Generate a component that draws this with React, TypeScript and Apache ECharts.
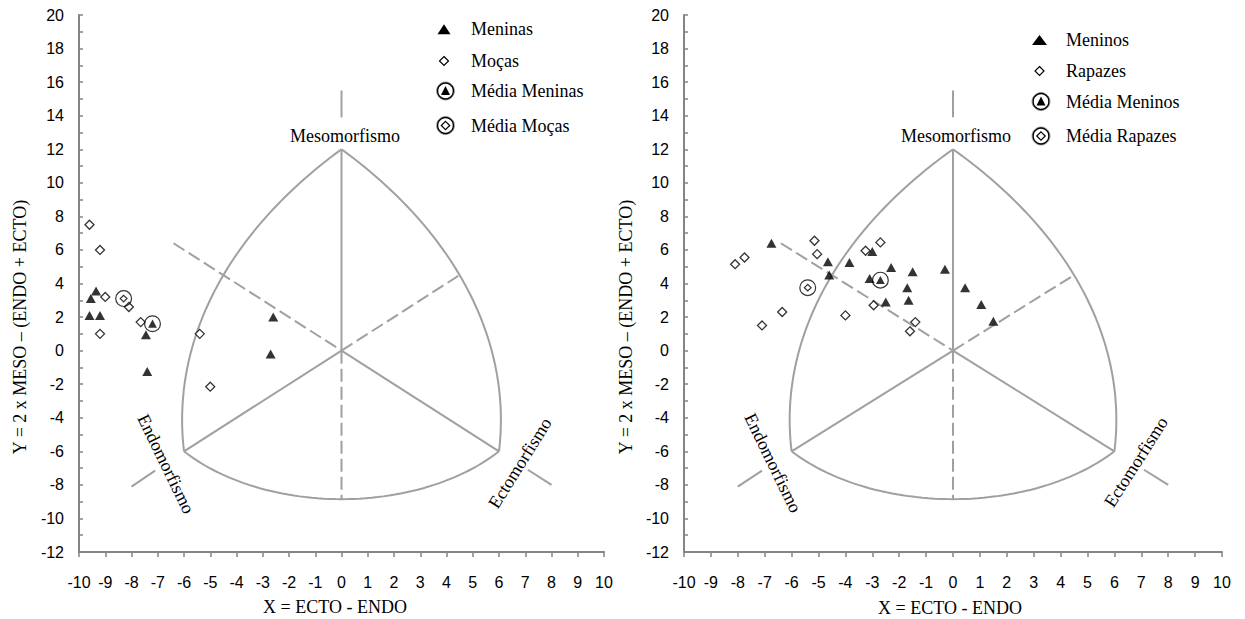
import { useEffect, useRef } from 'react';
import * as echarts from 'echarts';

type Pt = [number, number];

// Somatotype coordinates: X = ECTO - ENDO, Y = 2 x MESO - (ENDO + ECTO)
const meninas: Pt[] = [
  [-9.35, 3.55], [-9.55, 3.1], [-9.6, 2.1], [-9.2, 2.1],
  [-7.45, 0.95], [-7.4, -1.25], [-2.6, 2.0], [-2.7, -0.2],
];
const mocas: Pt[] = [
  [-9.6, 7.5], [-9.2, 6.0], [-9.0, 3.2], [-8.1, 2.6],
  [-7.65, 1.7], [-9.2, 1.0], [-5.4, 1.0], [-5.0, -2.15],
];
const mediaMeninas: Pt[] = [[-7.2, 1.6]];
const mediaMocas: Pt[] = [[-8.3, 3.1]];

const meninos: Pt[] = [
  [-6.75, 6.4], [-4.65, 5.3], [-4.6, 4.5], [-3.85, 5.25], [-3.0, 5.9],
  [-2.3, 4.95], [-1.5, 4.7], [-0.3, 4.85], [-3.1, 4.3], [-1.7, 3.75],
  [-1.65, 3.0], [-2.5, 2.9], [0.45, 3.75], [1.05, 2.75], [1.5, 1.75],
];
const rapazes: Pt[] = [
  [-8.1, 5.15], [-7.75, 5.55], [-5.15, 6.55], [-5.05, 5.75], [-6.35, 2.3],
  [-7.1, 1.5], [-4.0, 2.1], [-2.7, 6.45], [-3.25, 5.95], [-2.95, 2.7],
  [-1.4, 1.7], [-1.6, 1.15],
];
const mediaMeninos: Pt[] = [[-2.7, 4.2]];
const mediaRapazes: Pt[] = [[-5.4, 3.75]];

// Axis ranges
const xRange = { min: -10, max: 10, step: 1 };
const yRange = { min: -12, max: 20, step: 2 };

// Somatochart template (same for both panels)
const apex: Pt = [0, 12];
const endoCorner: Pt = [-6, -6];
const ectoCorner: Pt = [6, -6];
const endoArcMid: Pt = [-4.5, 4.5];
const ectoArcMid: Pt = [4.5, 4.5];
const baseArcMid: Pt = [0, -8.85];
const solidSegments: Pt[][] = [
  [[0, 15.5], [0, 13.9]],
  [[0, 12], [0, 0]],
  [[-6, -6], [0, 0]],
  [[0, 0], [6, -6]],
  [[-8, -8.1], [-7.1, -7.15]],
  [[7.1, -7.1], [8, -8]],
];
const dashedSegments: Pt[][] = [
  [[0, 0], [0, -8.85]],
  [[0, 0], [4.45, 4.45]],
  [[-6.4, 6.4], [0, 0]],
];

// Circular arc from a to c passing through b
function arcThrough(a: Pt, b: Pt, c: Pt, n = 60): Pt[] {
  const [ax, ay] = a, [bx, by] = b, [cx, cy] = c;
  const d = 2 * (ax * (by - cy) + bx * (cy - ay) + cx * (ay - by));
  const ux = ((ax * ax + ay * ay) * (by - cy) + (bx * bx + by * by) * (cy - ay) + (cx * cx + cy * cy) * (ay - by)) / d;
  const uy = ((ax * ax + ay * ay) * (cx - bx) + (bx * bx + by * by) * (ax - cx) + (cx * cx + cy * cy) * (bx - ax)) / d;
  const r = Math.hypot(ax - ux, ay - uy);
  const TWO = Math.PI * 2;
  const norm = (v: number) => ((v % TWO) + TWO) % TWO;
  const t0 = Math.atan2(ay - uy, ax - ux);
  const t1 = Math.atan2(by - uy, bx - ux);
  const t2 = Math.atan2(cy - uy, cx - ux);
  const d02 = norm(t2 - t0);
  const d01 = norm(t1 - t0);
  const sweep = d01 < d02 ? d02 : d02 - TWO;
  const pts: Pt[] = [];
  for (let i = 0; i <= n; i++) {
    const t = t0 + (sweep * i) / n;
    pts.push([ux + r * Math.cos(t), uy + r * Math.sin(t)]);
  }
  return pts;
}

const RING = 'M50,0 A50,50 0 1,1 50,100 A50,50 0 1,1 50,0 Z M50,7 A43,43 0 1,0 50,93 A43,43 0 1,0 50,7 Z';
const MEAN_TRIANGLE = 'path://' + RING + ' M50,25 L76,73 L24,73 Z';
const MEAN_DIAMOND = 'path://' + RING + ' M50,26 L75,50 L50,74 L25,50 Z M50,36 L35,50 L50,64 L65,50 Z';

const SERIF = '"Liberation Serif", "Times New Roman", serif';
const SANS = '"Liberation Sans", Arial, sans-serif';
const AXIS_GREY = '#858585';
const LINE_GREY = '#a0a0a0';

interface Panel {
  names: [string, string, string, string];
  groups: [Pt[], Pt[], Pt[], Pt[]];
}

const panels: Panel[] = [
  { names: ['Meninas', 'Moças', 'Média Meninas', 'Média Moças'], groups: [meninas, mocas, mediaMeninas, mediaMocas] },
  { names: ['Meninos', 'Rapazes', 'Média Meninos', 'Média Rapazes'], groups: [meninos, rapazes, mediaMeninos, mediaRapazes] },
];

function templateSeries(gi: number): any[] {
  const base = {
    type: 'line', xAxisIndex: gi, yAxisIndex: gi, showSymbol: false, symbol: 'none',
    silent: true, smooth: false, z: 1,
  };
  const out: any[] = [];
  const arcs = [
    arcThrough(apex, endoArcMid, endoCorner),
    arcThrough(apex, ectoArcMid, ectoCorner),
    arcThrough(endoCorner, baseArcMid, ectoCorner),
  ];
  arcs.forEach((a) => out.push({ ...base, data: a, lineStyle: { color: LINE_GREY, width: 2 } }));
  solidSegments.forEach((s) => out.push({ ...base, data: s, lineStyle: { color: LINE_GREY, width: 2 } }));
  dashedSegments.forEach((s) => out.push({ ...base, data: s, lineStyle: { color: LINE_GREY, width: 2, type: [13, 5] } }));
  return out;
}

function dataSeries(gi: number, p: Panel): any[] {
  const common = { type: 'scatter', xAxisIndex: gi, yAxisIndex: gi, z: 3 };
  return [
    { ...common, name: p.names[0], data: p.groups[0], symbol: 'triangle', symbolSize: [10, 9], itemStyle: { color: '#000' } },
    { ...common, name: p.names[1], data: p.groups[1], symbol: 'diamond', symbolSize: [9, 9], itemStyle: { color: '#fff', borderColor: '#000', borderWidth: 1.3 } },
    { ...common, name: p.names[2], data: p.groups[2], symbol: MEAN_TRIANGLE, symbolSize: 17, itemStyle: { color: '#000' } },
    { ...common, name: p.names[3], data: p.groups[3], symbol: MEAN_DIAMOND, symbolSize: 17, itemStyle: { color: '#000' } },
  ];
}

function text(t: string, x: number, y: number, deg: number, size = 18, align = 'center'): any {
  return {
    type: 'text', x, y, rotation: (deg * Math.PI) / 180, silent: true, z: 10,
    style: { text: t, fill: '#000', fontSize: size, fontFamily: SERIF, align, verticalAlign: 'middle' },
  };
}

interface LegendLayout { sx: number; tx: number; rows: number[]; triW: number }

function legendGraphic(names: string[], L: LegendLayout): any[] {
  const g: any[] = [];
  const [r0, r1, r2, r3] = L.rows;
  const sx = L.sx;
  g.push({ type: 'polygon', silent: true, z: 10, shape: { points: [[sx, r0 - 5], [sx + L.triW / 2, r0 + 5], [sx - L.triW / 2, r0 + 5]] }, style: { fill: '#000' } });
  g.push({ type: 'polygon', silent: true, z: 10, shape: { points: [[sx, r1 - 4.5], [sx + 4.5, r1], [sx, r1 + 4.5], [sx - 4.5, r1]] }, style: { fill: '#fff', stroke: '#000', lineWidth: 1.2 } });
  [r2, r3].forEach((ry) => {
    g.push({ type: 'circle', silent: true, z: 10, shape: { cx: sx + 1.5, cy: ry, r: 9 }, style: { fill: 'none', stroke: '#9a9a9a', lineWidth: 1 } });
    g.push({ type: 'circle', silent: true, z: 10, shape: { cx: sx + 1.5, cy: ry, r: 7.9 }, style: { fill: 'none', stroke: '#000', lineWidth: 1.4 } });
  });
  g.push({ type: 'polygon', silent: true, z: 11, shape: { points: [[sx + 1.5, r2 - 5], [sx + 6, r2 + 4], [sx - 3, r2 + 4]] }, style: { fill: '#000' } });
  g.push({ type: 'polygon', silent: true, z: 11, shape: { points: [[sx + 1.5, r3 - 4.2], [sx + 5.7, r3], [sx + 1.5, r3 + 4.2], [sx - 2.7, r3]] }, style: { fill: '#fff', stroke: '#000', lineWidth: 1.2 } });
  names.forEach((n, i) => g.push(text(n, L.tx, L.rows[i], 0, 18, 'left')));
  return g;
}

export default function App() {
  const ref = useRef<HTMLDivElement>(null);

  useEffect(() => {
    if (!ref.current) return;
    const chart = echarts.init(ref.current, undefined, { renderer: 'svg' });

    const axisLine = { onZero: false, lineStyle: { color: AXIS_GREY, width: 2 } };
    const xAxis = [0, 1].map((gi) => ({
      type: 'value', gridIndex: gi, min: xRange.min, max: xRange.max, interval: xRange.step,
      axisLine,
      axisTick: { show: true, inside: false, length: 5, lineStyle: { color: AXIS_GREY, width: 1.5 } },
      axisLabel: { color: '#000', fontFamily: SANS, fontSize: 16, margin: 22 },
      splitLine: { show: false },
    }));
    const yAxis = [0, 1].map((gi) => ({
      type: 'value', gridIndex: gi, min: yRange.min, max: yRange.max, interval: yRange.step,
      axisLine,
      axisTick: { show: true, inside: true, length: 4, lineStyle: { color: AXIS_GREY, width: 1.5 } },
      minorTick: { show: true, splitNumber: 2, length: 4, lineStyle: { color: AXIS_GREY, width: 1.5 } },
      axisLabel: { color: '#000', fontFamily: SANS, fontSize: 16, margin: 15 },
      splitLine: { show: false },
      minorSplitLine: { show: false },
    }));

    const series: any[] = [];
    panels.forEach((p, gi) => {
      series.push(...templateSeries(gi));
      series.push(...dataSeries(gi, p));
    });

    const graphic: any[] = [
      // axis titles
      text('X = ECTO - ENDO', 335, 607, 0),
      text('X = ECTO - ENDO', 950, 608, 0),
      text('Y = 2 x MESO – (ENDO + ECTO)', 20, 327, 90),
      text('Y = 2 x MESO – (ENDO + ECTO)', 626, 327, 90),
      // component labels
      text('Mesomorfismo', 345, 136, 0),
      text('Mesomorfismo', 956, 136, 0),
      text('Endomorfismo', 166, 464, -64),
      text('Endomorfismo', 773, 463, -64),
      text('Ectomorfismo', 520, 463, 58),
      text('Ectomorfismo', 1136, 462, 57.5),
      ...legendGraphic(panels[0].names, { sx: 444, tx: 471, rows: [29.3, 61, 91, 125.5], triW: 13 }),
      ...legendGraphic(panels[1].names, { sx: 1039.5, tx: 1066, rows: [40, 71, 101.5, 136], triW: 15 }),
    ];

    chart.setOption({
      animation: false,
      backgroundColor: '#fff',
      grid: [
        { left: 79, top: 15, width: 525, height: 537 },
        { left: 684, top: 15, width: 538, height: 537 },
      ],
      xAxis,
      yAxis,
      series,
      graphic,
    });

    return () => chart.dispose();
  }, []);

  return <div ref={ref} style={{ position: 'fixed', left: 0, top: 0, width: 1245, height: 619 }} />;
}
